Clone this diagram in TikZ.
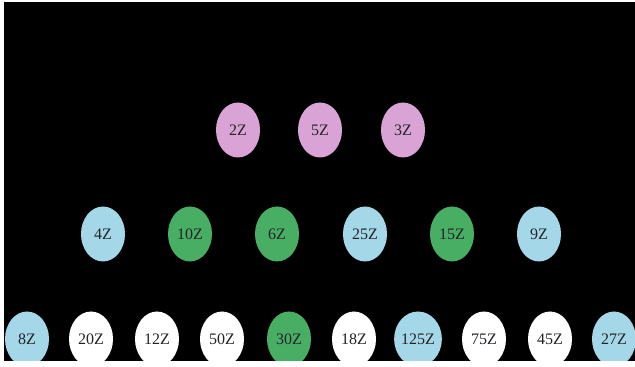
\documentclass[tikz,border=0pt]{standalone}
\usepackage{fontspec}
\setmainfont{Liberation Serif}
\usetikzlibrary{shapes.geometric}
\definecolor{idealpink}{RGB}{218,163,214}
\definecolor{idealblue}{RGB}{164,216,232}
\definecolor{idealgreen}{RGB}{72,174,100}
\definecolor{labelgray}{RGB}{35,35,40}
\tikzset{
  ideal/.style={ellipse, minimum width=44pt, minimum height=55pt, inner sep=0pt,
    font=\fontsize{16}{16}\selectfont, text=labelgray},
  pinkideal/.style={ideal, fill=idealpink},
  blueideal/.style={ideal, fill=idealblue},
  greenideal/.style={ideal, fill=idealgreen},
  whiteideal/.style={ideal, fill=white},
}
\begin{document}
\begin{tikzpicture}[x=1pt,y=1pt]
  \useasboundingbox (0,0) rectangle (635,367);
  \fill[white] (0,0) rectangle (635,367);
  \fill[black] (4,6) rectangle (635,365);
  \begin{scope}
    \clip (4,6) rectangle (635,365);
    % top row
    \node[pinkideal] (n2) at (238,237) {2Z};
    \node[pinkideal] (n5) at (320,237) {5Z};
    \node[pinkideal] (n3) at (403,237) {3Z};
    % middle row
    \node[blueideal]  (n4)  at (103,133) {4Z};
    \node[greenideal] (n10) at (190,133) {10Z};
    \node[greenideal] (n6)  at (277,133) {6Z};
    \node[blueideal]  (n25) at (365,133) {25Z};
    \node[greenideal] (n15) at (452,133) {15Z};
    \node[blueideal]  (n9)  at (539,133) {9Z};
    % bottom row
    \node[blueideal]  (n8)   at (27,28)  {8Z};
    \node[whiteideal] (n20)  at (91,28)  {20Z};
    \node[whiteideal] (n12)  at (157,28) {12Z};
    \node[whiteideal] (n50)  at (222,28) {50Z};
    \node[greenideal] (n30)  at (289,28) {30Z};
    \node[whiteideal] (n18)  at (354,28) {18Z};
    \node[blueideal]  (n125) at (418,28) {125Z};
    \node[whiteideal] (n75)  at (484,28) {75Z};
    \node[whiteideal] (n45)  at (550,28) {45Z};
    \node[blueideal]  (n27)  at (614,28) {27Z};
  \end{scope}
\end{tikzpicture}
\end{document}
